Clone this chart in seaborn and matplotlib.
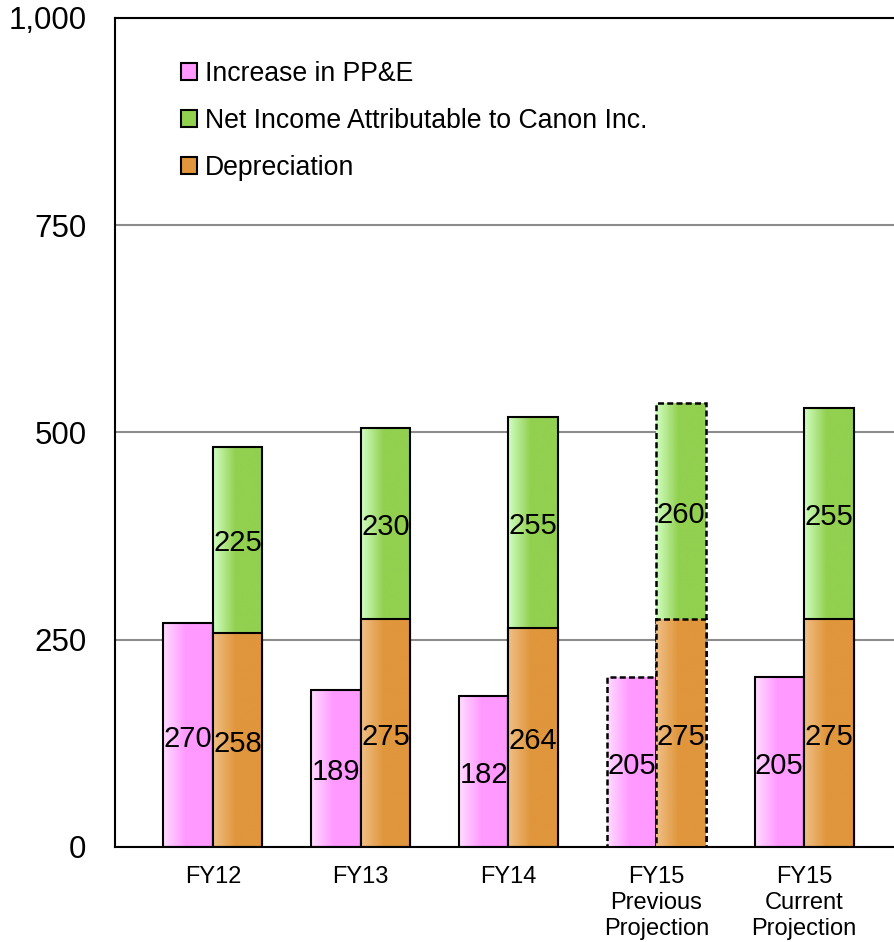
import numpy as np
import pandas as pd
import matplotlib
matplotlib.use("Agg")
import matplotlib.pyplot as plt
from matplotlib.colors import to_rgb
from matplotlib.patches import Patch
import seaborn as sns

# Capital expenditure vs. cash sources (billions of yen)
categories = ["FY12", "FY13", "FY14", "FY15\nPrevious\nProjection", "FY15\nCurrent\nProjection"]
ppe_increase = [270, 189, 182, 205, 205]
net_income = [225, 230, 255, 260, 255]
depreciation = [258, 275, 264, 275, 275]
projected = [False, False, False, True, False]
y_ticks = [0, 250, 500, 750, 1000]
series_labels = ["Increase in PP&E", "Net Income Attributable to Canon Inc.", "Depreciation"]

sns.set_theme(style="white")
plt.rcParams["font.family"] = ["Liberation Sans", "DejaVu Sans"]
plt.rcParams["text.color"] = "black"
plt.rcParams["xtick.color"] = "black"
plt.rcParams["ytick.color"] = "black"

# (light edge of gradient, solid colour)
shades = {
    "ppe": ("#FFDDFF", "#FF99FF"),
    "ni": ("#D2FFC4", "#92D050"),
    "dep": ("#F0C088", "#E0963C"),
}

fig = plt.figure(figsize=(8.94, 9.42), dpi=100)
ax = fig.add_axes([115 / 894, 95 / 942, 779 / 894, 829 / 942])

totals = [d + n for d, n in zip(depreciation, net_income)]
hue_order = ["left", "right"]
n = len(categories)

df_back = pd.DataFrame({
    "cat": categories * 2,
    "side": ["left"] * n + ["right"] * n,
    "value": ppe_increase + totals,
})
df_front = pd.DataFrame({
    "cat": categories,
    "side": ["right"] * n,
    "value": depreciation,
})


def draw(df, pal):
    before = len(ax.patches)
    sns.barplot(data=df, x="cat", y="value", hue="side", hue_order=hue_order,
                order=categories, palette=pal, width=0.67, errorbar=None,
                legend=False, dodge=True, ax=ax)
    return list(ax.patches[before:])


def shade(patch, light, base, z, dashed):
    x, y = patch.get_x(), patch.get_y()
    w, h = patch.get_width(), patch.get_height()
    t = np.linspace(0, 1, 256)
    f = np.clip(t / 0.45, 0, 1)
    c0, c1 = np.array(to_rgb(light)), np.array(to_rgb(base))
    img = (c0[None, :] * (1 - f)[:, None] + c1[None, :] * f[:, None])[None, :, :]
    im = ax.imshow(img, extent=[x, x + w, y, y + h], aspect="auto",
                   origin="lower", zorder=z, interpolation="bilinear")
    im.set_clip_path(patch)
    patch.set_facecolor("none")
    patch.set_edgecolor("black")
    patch.set_linewidth(1.5)
    patch.set_zorder(z + 0.05)
    if dashed:
        patch.set_linewidth(1.8)
        patch.set_linestyle((0, (2.4, 1.3)))


back = draw(df_back, {"left": shades["ppe"][1], "right": shades["ni"][1]})
front = draw(df_front, {"left": shades["ppe"][1], "right": shades["dep"][1]})

for p in back:
    cx = p.get_x() + p.get_width() / 2
    idx = int(round(cx))
    key = "ppe" if cx < idx else "ni"
    shade(p, *shades[key], z=2.0, dashed=projected[idx])
for p in front:
    cx = p.get_x() + p.get_width() / 2
    idx = int(round(cx))
    shade(p, *shades["dep"], z=2.2, dashed=projected[idx])

# value labels centred in each segment
half = 0.67 / 4
for i in range(n):
    for xpos, ymid, val in [
        (i - half, ppe_increase[i] / 2, ppe_increase[i]),
        (i + half, depreciation[i] / 2, depreciation[i]),
        (i + half, depreciation[i] + net_income[i] / 2, net_income[i]),
    ]:
        ax.annotate(f"{val}", (xpos, ymid), xytext=(0, -8.3), textcoords="offset points",
                    ha="center", va="baseline", fontsize=21, color="black", zorder=5)

ax.set_xlim(-0.663, 4.609)
ax.set_ylim(0, 1000)
ax.set_xlabel("")
ax.set_ylabel("")
ax.set_xticks(range(n))
ax.set_xticklabels(categories, fontsize=17, linespacing=1.22)
ax.set_yticks(y_ticks)
ax.set_yticklabels([f"{v:,}" for v in y_ticks], fontsize=22.5)
ax.tick_params(axis="x", length=0, pad=14)
ax.tick_params(axis="y", length=0, pad=20.5)

ax.set_axisbelow(True)
ax.yaxis.grid(True, color="#8c8c8c", linewidth=1.5)
ax.xaxis.grid(False)
for side in ["left", "bottom", "top"]:
    ax.spines[side].set_visible(True)
    ax.spines[side].set_color("black")
    ax.spines[side].set_linewidth(1.5)
ax.spines["right"].set_visible(False)

handles = [
    Patch(facecolor=shades["ppe"][1], edgecolor="black", linewidth=1.5),
    Patch(facecolor=shades["ni"][1], edgecolor="black", linewidth=1.5),
    Patch(facecolor=shades["dep"][1], edgecolor="black", linewidth=1.5),
]
ax.legend(handles, series_labels, loc="upper left", bbox_to_anchor=(0.085, 0.948),
          frameon=False, fontsize=19.2, handlelength=0.6, handleheight=0.6,
          handletextpad=0.3, labelspacing=0.78, borderpad=0, borderaxespad=0)

fig.savefig("out.png", dpi=100)
